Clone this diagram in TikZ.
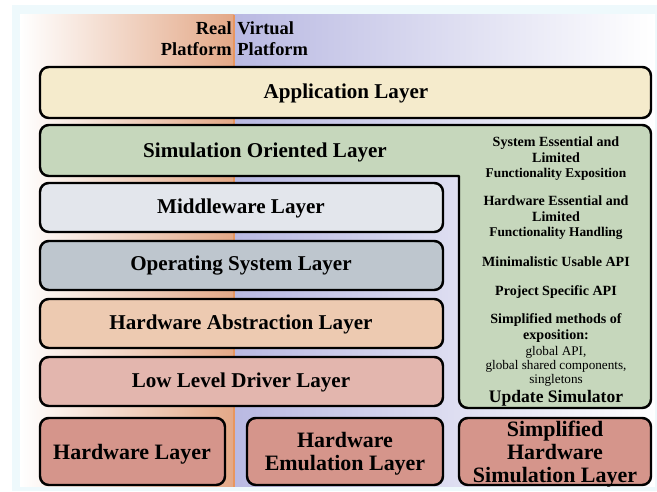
\documentclass[tikz,border=0pt]{standalone}
\usepackage{fontspec}
\setmainfont{Liberation Serif}
\definecolor{glowc}{HTML}{EEF9FC}
\definecolor{realc}{HTML}{E3A887}
\definecolor{virtc}{HTML}{B9B9E2}
\definecolor{divc}{HTML}{E8965E}
\definecolor{appfill}{HTML}{F5EBCC}
\definecolor{simfill}{HTML}{C6D7BC}
\definecolor{mwfill}{HTML}{E3E6EC}
\definecolor{osfill}{HTML}{BEC6CE}
\definecolor{halfill}{HTML}{EDCAB1}
\definecolor{lldfill}{HTML}{E3B6AE}
\definecolor{hwfill}{HTML}{D5958B}
\begin{document}
\begin{tikzpicture}[x=0.02cm,y=-0.02cm,line join=round]
		\tikzset{layer/.style={draw=black,line width=1.4pt,rounded corners=5pt},
			layertext/.style={font=\fontsize{12}{13}\selectfont\bfseries},
			hwtext/.style={font=\fontsize{12.5}{13}\selectfont\bfseries,align=center},
			simtext/.style={font=\fontsize{8}{8.8}\selectfont\bfseries,align=center},
			platform/.style={font=\fontsize{10.5}{12}\selectfont\bfseries}}
		\useasboundingbox (0,0) rectangle (657,492);
		%--------- Background: real / virtual platform
		\fill[white] (0,0) rectangle (657,492);
		\fill[glowc] (12,5) rectangle (657,491);
		\shade[left color=white,right color=realc] (20,15) rectangle (234,487);
		\shade[left color=virtc,right color=white] (234,15) rectangle (655,487);
		\draw[divc,line width=0.8pt] (234,15) -- (234,487);
		\node[platform,anchor=north east,align=right,inner sep=0pt] (real) at (232,21) {Real\\Platform};
		\node[platform,anchor=north west,align=left,inner sep=0pt] (virtual) at (237,21) {Virtual\\Platform};
		%--------- Upper layers
		\draw[layer,fill=appfill] (40,67) rectangle (651,118);
		\node[layertext] (app) at (346,93) {Application Layer};
		\draw[layer,fill=simfill] (40,125) -- (651,125) -- (651,408) -- (459,408) [sharp corners] -- (459,176) [rounded corners=5pt] -- (40,176) -- cycle;
		\node[layertext] (sim) at (265,152) {Simulation Oriented Layer};
		%--------- Real platform stack
		\draw[layer,fill=mwfill] (40,183) rectangle (443,232);
		\node[layertext] (mw) at (241,208) {Middleware Layer};
		\draw[layer,fill=osfill] (40,241) rectangle (443,290);
		\node[layertext] (os) at (241,266) {Operating System Layer};
		\draw[layer,fill=halfill] (40,299) rectangle (443,348);
		\node[layertext] (hal) at (241,324) {Hardware Abstraction Layer};
		\draw[layer,fill=lldfill] (40,357) rectangle (443,406);
		\node[layertext] (lld) at (241,382) {Low Level Driver Layer};
		%--------- Simulation column
		\node[simtext] (sysexp) at (556,159) {System Essential and\\Limited\\{\fontsize{7.6}{8.8}\selectfont Functionality Exposition}};
		\node[simtext] (hwexp) at (556,218) {Hardware Essential and\\Limited\\{\fontsize{7.6}{8.8}\selectfont Functionality Handling}};
		\node[simtext] (minapi) at (556,262) {Minimalistic Usable API};
		\node[simtext] (projapi) at (556,292) {Project Specific API};
		\node[simtext] (methods) at (556,328) {Simplified methods of\\exposition:};
		\node[font=\fontsize{7.5}{8}\selectfont,align=center] (globals) at (556,366) {global API,\\global shared components,\\singletons};
		\node[font=\fontsize{10}{11}\selectfont\bfseries] (update) at (556,398) {Update Simulator};
		%--------- Hardware layers
		\draw[layer,fill=hwfill] (40,418) rectangle (225,485);
		\node[hwtext] (hw) at (132,454) {Hardware Layer};
		\draw[layer,fill=hwfill] (247,418) rectangle (443,485);
		\node[hwtext] (hwemu) at (345,454) {Hardware\\Emulation Layer};
		\draw[layer,fill=hwfill] (459,418) rectangle (651,485);
		\node[hwtext] (hwsim) at (555,454) {Simplified\\Hardware\\Simulation Layer};
	\end{tikzpicture}
\end{document}
